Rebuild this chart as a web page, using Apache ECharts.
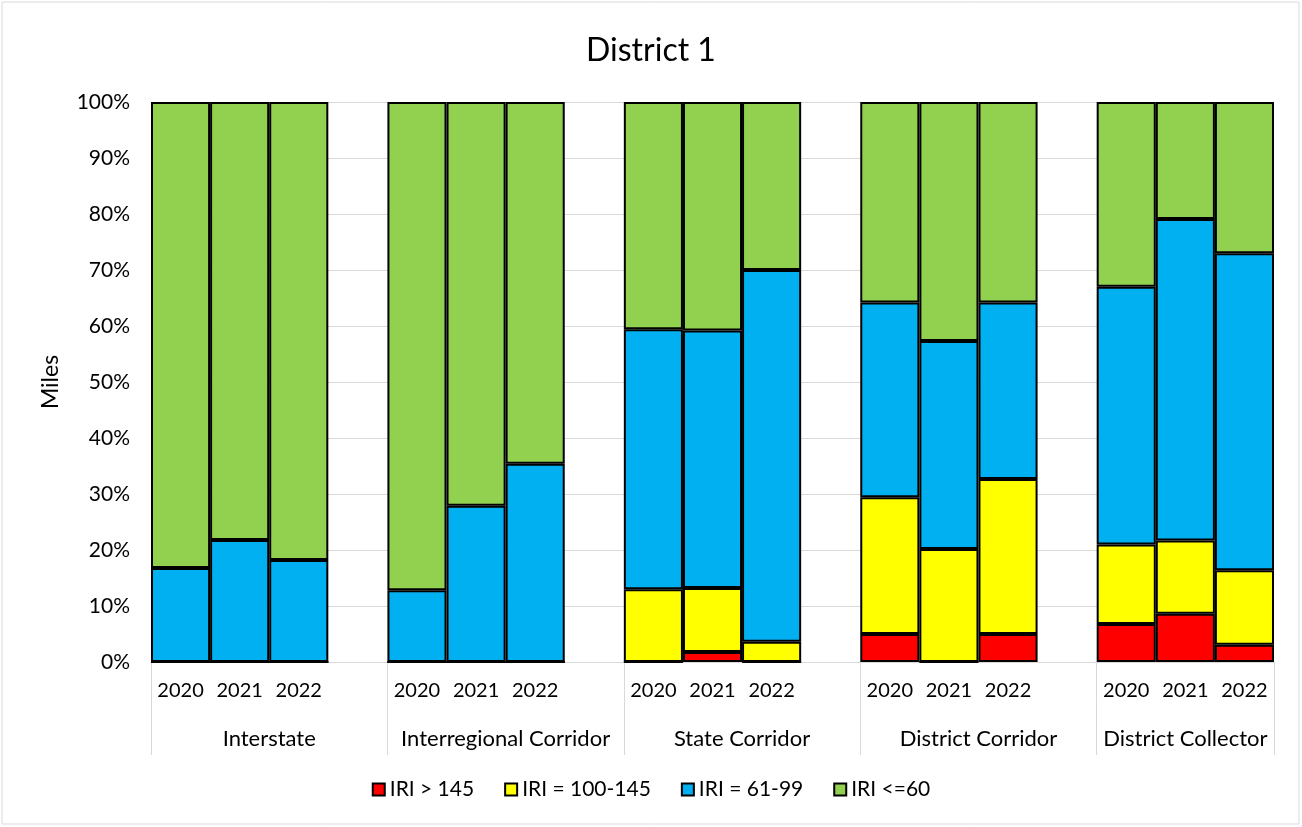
<!DOCTYPE html>
<html>
<head>
<meta charset="utf-8">
<script src="https://cdn.jsdelivr.net/npm/echarts@6/dist/echarts.min.js"></script>
<style>
  html, body { margin: 0; padding: 0; background: #fff; }
  #chart { width: 1302px; height: 827px; }
</style>
</head>
<body>
<div id="chart"></div>
<script>
// road classes and years
var groups = ['Interstate', 'Interregional Corridor', 'State Corridor', 'District Corridor', 'District Collector'];
var years = ['2020', '2021', '2022'];

// share of miles (%), per class, 2020/2021/2022 in a row
var iriOver145 = [0, 0, 0,   0, 0, 0,   0, 1.8, 0,   5.0, 0, 5.0,   6.8, 8.6, 3.1];
var iri100to145 = [0, 0, 0,   0, 0, 0,   13.0, 11.4, 3.6,   24.4, 20.2, 27.7,   14.2, 13.1, 13.3];
var iri61to99 = [16.8, 21.8, 18.2,   12.8, 27.9, 35.4,   46.4, 46.0, 66.4,   34.8, 37.1, 31.5,   46.0, 57.4, 56.6];
var iriUnder60 = [83.2, 78.2, 81.8,   87.2, 72.1, 64.6,   40.6, 40.8, 30.0,   35.8, 42.7, 35.8,   33.0, 20.9, 27.0];

var yTicks = [0, 10, 20, 30, 40, 50, 60, 70, 80, 90, 100];

var seriesNames = ['IRI > 145', 'IRI = 100-145', 'IRI = 61-99', 'IRI <=60'];
var seriesColors = ['#FF0000', '#FFFF00', '#00B0F0', '#92D050'];
var seriesData = [iriOver145, iri100to145, iri61to99, iriUnder60];

var font = 'Lato, "Liberation Sans", sans-serif';
var gray = '#d9d9d9';

// build slot list: 3 years per group, blank slot between groups
var slots = [];
var slotIndex = []; // index into data arrays, or -1 for a gap
groups.forEach(function (g, gi) {
  years.forEach(function (y, yi) {
    slots.push(y);
    slotIndex.push(gi * years.length + yi);
  });
  if (gi < groups.length - 1) {
    slots.push('');
    slotIndex.push(-1);
  }
});

// second axis in half-slot steps, used for group names and separators
var halfCount = slots.length * 2 + 1;
var groupAxis = [];
var sepIdx = [];
for (var i = 0; i < halfCount; i++) groupAxis.push('');
groups.forEach(function (g, gi) {
  var start = gi * (years.length + 1) * 2;
  var span = (gi < groups.length - 1 ? years.length + 1 : years.length) * 2;
  groupAxis[start + span / 2] = g;
  sepIdx.push(start);
});
sepIdx.push(halfCount - 1);

var series = seriesNames.map(function (name, si) {
  return {
    name: name,
    type: 'bar',
    stack: 'iri',
    barCategoryGap: '0%',
    itemStyle: { color: seriesColors[si], borderColor: '#000', borderWidth: 2 },
    data: slotIndex.map(function (k) { return k < 0 ? '-' : seriesData[si][k]; })
  };
});

var chart = echarts.init(document.getElementById('chart'));
chart.setOption({
  animation: false,
  backgroundColor: '#fff',
  title: {
    text: 'District 1',
    left: 'center',
    top: 30,
    textStyle: { fontFamily: font, fontSize: 32, fontWeight: 'normal', color: '#000' }
  },
  legend: {
    data: seriesNames,
    bottom: 22,
    left: 'center',
    icon: 'rect',
    itemWidth: 12,
    itemHeight: 12,
    itemGap: 30,
    textStyle: { fontFamily: font, fontSize: 21, color: '#000' }
  },
  graphic: [{
    type: 'rect',
    shape: { x: 2, y: 2, width: 1297, height: 822 },
    style: { fill: 'none', stroke: gray, lineWidth: 1 },
    silent: true
  }],
  grid: { left: 151, right: 28, top: 102, bottom: 165 },
  xAxis: [{
    type: 'category',
    data: slots,
    axisLine: { lineStyle: { color: gray, width: 1 } },
    axisTick: { show: false },
    axisLabel: { interval: 0, margin: 19, fontFamily: font, fontSize: 20, color: '#000' }
  }, {
    type: 'category',
    position: 'bottom',
    boundaryGap: false,
    data: groupAxis,
    axisLine: { show: false },
    axisTick: {
      show: true,
      length: 93,
      interval: function (idx) { return sepIdx.indexOf(idx) >= 0; },
      lineStyle: { color: gray, width: 1 }
    },
    axisLabel: {
      interval: 0,
      margin: 66,
      fontFamily: font,
      fontSize: 22,
      color: '#000'
    }
  }],
  yAxis: {
    type: 'value',
    min: yTicks[0],
    max: yTicks[yTicks.length - 1],
    interval: yTicks[1] - yTicks[0],
    name: 'Miles',
    nameLocation: 'middle',
    nameGap: 89,
    nameTextStyle: { fontFamily: font, fontSize: 23, color: '#000' },
    axisLine: { show: false },
    axisTick: { show: false },
    splitLine: { lineStyle: { color: gray, width: 1 } },
    axisLabel: { formatter: '{value}%', margin: 21, fontFamily: font, fontSize: 21, color: '#000' }
  },
  series: series
});
</script>
</body>
</html>
